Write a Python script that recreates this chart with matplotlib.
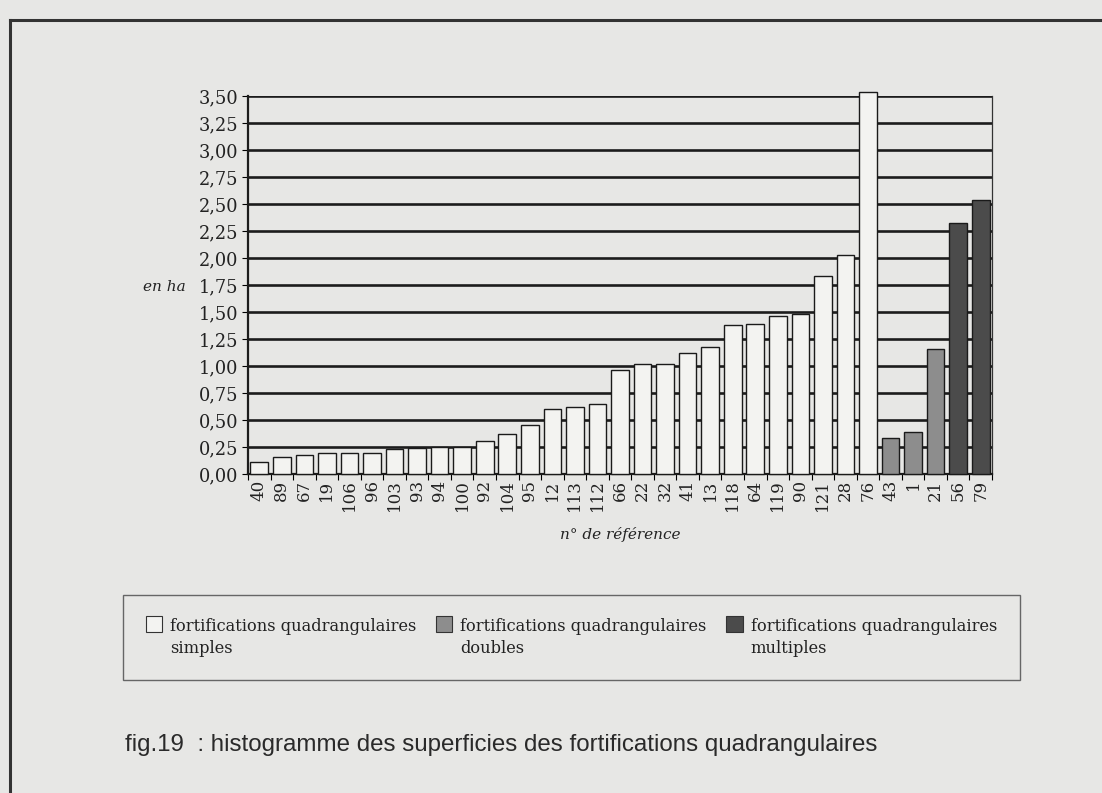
#!/usr/bin/env python3

import matplotlib
matplotlib.use("Agg")
import matplotlib.pyplot as plt
from matplotlib.patches import Patch, Rectangle
from matplotlib.lines import Line2D
from matplotlib.legend_handler import HandlerPatch
import numpy as np

# n° de référence and surface (ha), per group
simple_refs = ["40", "89", "67", "19", "106", "96", "103", "93", "94", "100",
               "92", "104", "95", "12", "113", "112", "66", "22", "32", "41",
               "13", "118", "64", "119", "90", "121", "28", "76"]
simple_vals = [0.11, 0.16, 0.18, 0.19, 0.19, 0.19, 0.23, 0.24, 0.25, 0.25,
               0.31, 0.37, 0.45, 0.60, 0.62, 0.65, 0.96, 1.02, 1.02, 1.12,
               1.18, 1.38, 1.39, 1.46, 1.48, 1.83, 2.03, 3.54]
double_refs = ["43", "1", "21"]
double_vals = [0.33, 0.39, 1.16]
multi_refs = ["56", "79"]
multi_vals = [2.32, 2.54]

yticks = [0.25 * i for i in range(15)]
legend_labels = ["fortifications quadrangulaires\nsimples",
                 "fortifications quadrangulaires\ndoubles",
                 "fortifications quadrangulaires\nmultiples"]
caption = "fig.19  : histogramme des superficies des fortifications quadrangulaires"

BG = "#e7e7e5"
C_SIMPLE = "#f3f3f1"
C_DOUBLE = "#8d8d8d"
C_MULTI = "#4b4b4b"
SERIF = "DejaVu Serif"
INK = "#222222"
LEG_FS = 11.7
LEG_LS = 1.45


class TopSquare(HandlerPatch):
    """ legend square aligned with the first line of a two-line label """
    def create_artists(self, legend, orig_handle, xdescent, ydescent,
                       width, height, fontsize, trans):
        size = 1.0 * fontsize
        p = Rectangle((-xdescent, -ydescent + height - size + 0.35 * fontsize), size, size,
                      facecolor=orig_handle.get_facecolor(),
                      edgecolor=orig_handle.get_edgecolor(),
                      linewidth=orig_handle.get_linewidth(), transform=trans)
        return [p]


def main():
    fig = plt.figure(figsize=(11.02, 7.93), dpi=100, facecolor=BG)
    ax = fig.add_axes([248 / 1102, 1 - 474 / 793, (992 - 248) / 1102, (474 - 96) / 793])
    ax.set_facecolor(BG)

    refs = simple_refs + double_refs + multi_refs
    vals = simple_vals + double_vals + multi_vals
    colors = ([C_SIMPLE] * len(simple_refs) + [C_DOUBLE] * len(double_refs)
              + [C_MULTI] * len(multi_refs))
    x = np.arange(len(refs))

    bars = ax.bar(x, vals, width=0.78, color=colors, edgecolor="#1a1a1a",
                  linewidth=1.0, zorder=3)
    for b in bars:
        b.set_clip_on(False)

    ax.set_xlim(-0.5, len(refs) - 0.5)
    ax.set_ylim(0, 3.5)
    ax.set_yticks(yticks)
    ax.set_yticklabels([f"{v:.2f}".replace(".", ",") for v in yticks],
                       fontfamily=SERIF, fontsize=12.8, color=INK)
    ax.yaxis.grid(True, color="#1c1c1c", linewidth=1.9, zorder=0)
    ax.set_axisbelow(True)

    ax.set_xticks(x)
    ax.set_xticklabels(refs, rotation=90, fontfamily=SERIF, fontsize=12, color=INK)
    ax.set_xticks(np.arange(len(refs) + 1) - 0.5, minor=True)
    ax.tick_params(axis="x", which="major", length=0, pad=4)
    ax.tick_params(axis="x", which="minor", length=4, width=0.8, direction="out")
    ax.tick_params(axis="y", length=4, width=0.8, direction="out", pad=3)

    for side in ["left", "bottom"]:
        ax.spines[side].set_linewidth(1.6)
        ax.spines[side].set_color("#1c1c1c")
    ax.spines["right"].set_linewidth(0.9)
    ax.spines["right"].set_color("#333")
    ax.spines["top"].set_visible(False)

    fig.text(164 / 1102, 1 - 287 / 793, "en ha", fontfamily=SERIF, style="italic",
             fontsize=11, ha="center", va="center", color=INK)
    fig.text(620 / 1102, 1 - 534 / 793, "n° de référence", fontfamily=SERIF, style="italic",
             fontsize=11, ha="center", va="center", color=INK)

    handles = [Patch(facecolor=c, edgecolor="#333", linewidth=0.8)
               for c in (C_SIMPLE, C_DOUBLE, C_MULTI)]
    leg = fig.legend(handles, legend_labels, ncol=3, mode="expand",
                     bbox_to_anchor=(123 / 1102, 1 - 682 / 793, (1020 - 123) / 1102, 89 / 793),
                     loc="center", prop={"family": SERIF, "size": LEG_FS},
                     handler_map={Patch: TopSquare()},
                     handlelength=1.0, handleheight=2 * LEG_LS, handletextpad=0.5,
                     borderpad=1.4, borderaxespad=0, fancybox=False, framealpha=1,
                     facecolor=BG, edgecolor="#666")
    leg.get_frame().set_linewidth(1.0)
    for t in leg.get_texts():
        t.set_color(INK)
        t.set_linespacing(LEG_LS)

    fig.text(125 / 1102, 1 - 745 / 793, caption, fontfamily="Liberation Sans",
             fontsize=17.4, ha="left", va="center", color="#2a2a2a")

    # outer frame (left and top edges visible)
    fig.add_artist(Line2D([10 / 1102, 10 / 1102], [0, 1 - 20 / 793],
                          transform=fig.transFigure, color="#333", linewidth=2.2))
    fig.add_artist(Line2D([10 / 1102, 1], [1 - 20 / 793, 1 - 20 / 793],
                          transform=fig.transFigure, color="#333", linewidth=2.2))

    fig.savefig("out.png", dpi=100, facecolor=BG)


if __name__ == "__main__":
    main()
